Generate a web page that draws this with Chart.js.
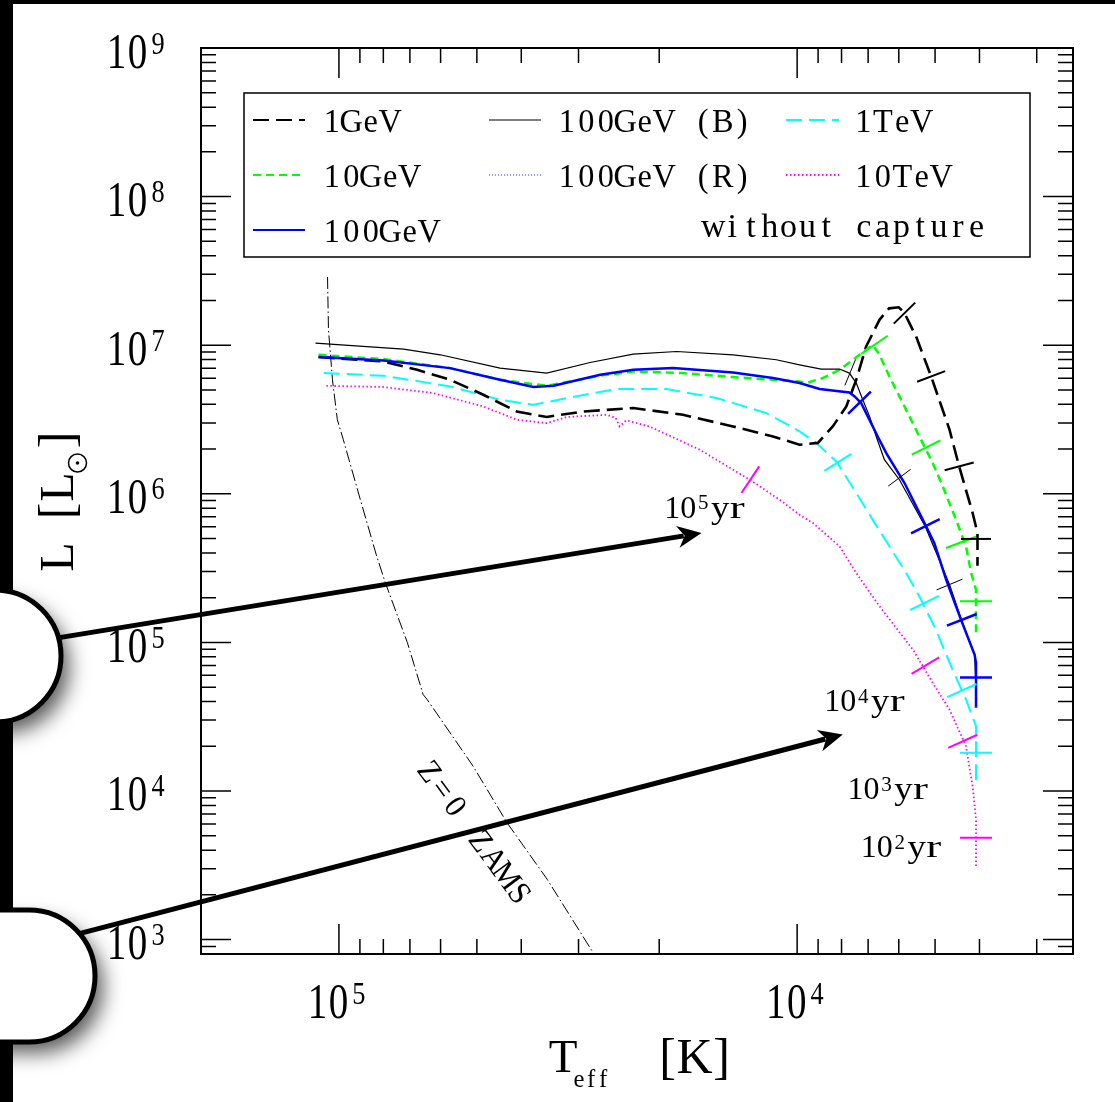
<!DOCTYPE html>
<html>
<head>
<meta charset="utf-8">
<script src="https://cdn.jsdelivr.net/npm/chart.js@4/dist/chart.umd.min.js"></script>
<style>
html, body { margin: 0; padding: 0; background: #fff; }
#wrap { position: relative; width: 1115px; height: 1102px; }
</style>
</head>
<body>
<div id="wrap"><canvas id="myChart"></canvas></div>
<script>
// axis ranges and tick labels
const xMin = 2500, xMax = 2e5;
const yMin = 800, yMax = 1e9;
const xMajor = [1e5, 1e4];
const xTickExp = ['5', '4'];
const yMajor = [1e9, 1e8, 1e7, 1e6, 1e5, 1e4, 1e3];
const yTickExp = ['9', '8', '7', '6', '5', '4', '3'];

// 1GeV track (black dashed)
const gev1T = [1.108e5, 7.99e4, 6.75e4, 5.72e4, 4.84e4, 4.09e4, 3.52e4, 2.93e4, 2.28e4, 1.774e4, 1.38e4, 1.129e4, 9.88e3, 9.01e3, 8.36e3, 7.81e3, 7.43e3, 7.07e3, 6.61e3, 6.3e3, 6.0e3, 5.83e3, 5.5e3, 5.1e3, 4.65e3, 4.43e3, 4.14e3, 4.04e3, 4.04e3];
const gev1L = [8.32e6, 7.77e6, 6.83e6, 5.85e6, 4.64e6, 3.58e6, 3.29e6, 3.58e6, 3.78e6, 3.4e6, 2.84e6, 2.43e6, 2.14e6, 2.2e6, 2.84e6, 3.87e6, 5.85e6, 9.8e6, 1.482e7, 1.77e7, 1.8e7, 1.644e7, 1.144e7, 6.16e6, 2.7e6, 1.529e6, 7.43e5, 5.45e5, 3.28e5];
const gev1MarkT = [5.83e3, 5.1e3, 4.43e3, 4.07e3];
const gev1MarkL = [1.644e7, 6.16e6, 1.529e6, 4.97e5];

// 10GeV track (green dashed)
const gev10T = [1.108e5, 7.99e4, 5.72e4, 4.45e4, 3.52e4, 2.69e4, 2.28e4, 1.774e4, 1.38e4, 9.88e3, 9.55e3, 8.79e3, 8.08e3, 7.31e3, 6.84e3, 6.61e3, 6.29e3, 5.88e3, 5.41e3, 5.06e3, 4.81e3, 4.5e3, 4.28e3, 4.17e3, 4.07e3, 4.07e3];
const gev10L = [8.62e6, 8.06e6, 7.01e6, 5.85e6, 5.33e6, 6.23e6, 6.66e6, 6.49e6, 6.1e6, 5.7e6, 5.56e6, 6.01e6, 6.83e6, 8.62e6, 1.006e7, 8.62e6, 6.16e6, 4.08e6, 2.43e6, 1.612e6, 1.121e6, 6.7e5, 4.43e5, 2.93e5, 2.26e5, 1.158e5];
const gev10MarkT = [6.78e3, 5.23e3, 4.39e3, 4.07e3];
const gev10MarkL = [1.006e7, 2.05e6, 4.71e5, 1.89e5];

// 100GeV track (blue solid)
const gev100T = [1.107e5, 7.99e4, 5.72e4, 4.45e4, 3.76e4, 3.4e4, 2.69e4, 2.28e4, 1.865e4, 1.38e4, 1.129e4, 9.88e3, 8.93e3, 7.69e3, 7.49e3, 7.25e3, 7.07e3, 6.67e3, 6.39e3, 5.83e3, 5.23e3, 5.02e3, 4.73e3, 4.39e3, 4.1e3, 4.07e3, 4.07e3];
const gev100L = [8.32e6, 7.89e6, 7.01e6, 5.85e6, 5.23e6, 5.33e6, 6.32e6, 6.83e6, 7.01e6, 6.55e6, 6.01e6, 5.56e6, 5.07e6, 4.81e6, 4.52e6, 4.08e6, 3.49e6, 2.43e6, 1.88e6, 1.182e6, 6.04e5, 4.67e5, 2.65e5, 1.424e5, 8.28e4, 7.28e4, 3.63e4];
const gev100MarkT = [7.31e3, 5.25e3, 4.37e3, 4.07e3];
const gev100MarkL = [4.1e6, 6.04e5, 1.42e5, 5.8e4];

// 100GeV (B) track (thin black)
const gevBT = [1.125e5, 7.225e4, 6.01e4, 4.45e4, 3.52e4, 2.83e4, 2.28e4, 1.833e4, 1.38e4, 1.11e4, 9.88e3, 8.86e3, 8.08e3, 7.69e3, 7.43e3, 7.19e3, 6.95e3, 6.72e3, 6.45e3, 5.98e3, 5.25e3, 4.65e3, 4.38e3, 4.1e3, 4.06e3];
const gevBL = [1.033e7, 9.41e6, 8.62e6, 7.01e6, 6.49e6, 7.65e6, 8.71e6, 9.07e6, 8.62e6, 7.98e6, 7.38e6, 6.91e6, 6.91e6, 6.49e6, 5.56e6, 4.29e6, 3.32e6, 2.43e6, 1.696e6, 1.244e6, 6.01e5, 2.45e5, 1.424e5, 8.28e4, 4.13e4];
const gevBMarkT = [7.66e3, 5.98e3, 4.65e3];
const gevBMarkL = [6.55e6, 1.283e6, 2.45e5];

// 100GeV (R) track (thin blue dotted, lies under the 100GeV one)
const gevRT = [1.107e5, 7.99e4, 5.72e4, 4.45e4, 3.76e4, 3.4e4, 2.69e4, 2.28e4, 1.865e4, 1.38e4, 1.129e4, 9.88e3, 8.93e3, 7.69e3, 7.49e3, 7.25e3, 7.07e3, 6.67e3, 6.39e3, 5.83e3, 5.23e3, 5.02e3, 4.73e3, 4.39e3, 4.1e3, 4.07e3];
const gevRL = [8.3e6, 7.9e6, 7.0e6, 5.85e6, 5.25e6, 5.33e6, 6.3e6, 6.8e6, 7.0e6, 6.55e6, 6.0e6, 5.55e6, 5.07e6, 4.8e6, 4.5e6, 4.1e6, 3.5e6, 2.45e6, 1.9e6, 1.18e6, 6.0e5, 4.65e5, 2.65e5, 1.42e5, 8.3e4, 7.3e4];
const gevRMarkT = [7.31e3, 5.25e3, 4.37e3];
const gevRMarkL = [4.1e6, 6.04e5, 1.42e5];

// 1TeV track (cyan dashed)
const tev1T = [1.079e5, 7.99e4, 5.72e4, 4.45e4, 3.76e4, 3.18e4, 2.48e4, 1.928e4, 1.5e4, 1.167e4, 1.038e4, 9.88e3, 9.08e3, 8.21e3, 7.43e3, 6.84e3, 6.29e3, 5.78e3, 5.41e3, 4.98e3, 4.58e3, 4.28e3, 4.07e3, 4.07e3];
const tev1L = [6.49e6, 6.23e6, 5.28e6, 4.29e6, 3.97e6, 4.41e6, 5.07e6, 5.07e6, 4.41e6, 3.49e6, 2.87e6, 2.63e6, 2.2e6, 1.652e6, 1.013e6, 6.7e5, 4.43e5, 2.93e5, 2.04e5, 1.219e5, 6.56e4, 4.13e4, 2.73e4, 1.077e4];
const tev1MarkT = [8.15e3, 5.27e3, 4.37e3, 4.07e3];
const tev1MarkL = [1.626e6, 1.844e5, 4.74e4, 1.807e4];

// 10TeV track (magenta dotted)
const tev10T = [1.065e5, 7.99e4, 6.22e4, 4.84e4, 4.09e4, 3.52e4, 3.18e4, 2.6e4, 2.49e4, 2.44e4, 2.36e4, 2.1e4, 1.631e4, 1.269e4, 1.092e4, 9.88e3, 9.24e3, 8.08e3, 7.43e3, 6.61e3, 5.59e3, 5.06e3, 4.65e3, 4.28e3, 4.14e3, 4.07e3, 4.07e3];
const tev10L = [5.33e6, 5.23e6, 4.76e6, 3.87e6, 3.15e6, 2.99e6, 3.29e6, 3.4e6, 3.25e6, 2.84e6, 3.12e6, 2.84e6, 1.98e6, 1.244e6, 9.13e5, 7.23e5, 6.36e5, 4.43e5, 2.93e5, 1.749e5, 8.95e4, 5.34e4, 3.53e4, 2.0e4, 1.077e4, 6.43e3, 3.12e3];
const tev10MarkT = [1.265e4, 5.25e3, 4.35e3, 4.07e3];
const tev10MarkL = [1.244e6, 6.98e4, 2.16e4, 4.85e3];

// Z=0 ZAMS
const zamsT = [1.059e5, 1.054e5, 1.033e5, 1.008e5, 9.78e4, 8.98e4, 8.29e4, 7.92e4, 7.09e4, 6.55e4, 6.42e4, 5.09e4, 4.3e4, 3.51e4, 2.79e4];
const zamsL = [2.88e7, 1.27e7, 5.85e6, 3.15e6, 2.31e6, 9.13e5, 3.89e5, 2.52e5, 9.97e4, 4.46e4, 4.13e4, 1.462e4, 6.14e3, 2.54e3, 820];

// age labels (exponent, T, L of the label's left baseline point)
const ageExp = ['5', '4', '3', '2'];
const ageT = [1.93e4, 8.64e3, 7.69e3, 7.19e3];
const ageL = [6.88e5, 3.44e4, 8.77e3, 3.57e3];

// arrows (from T, L to T, L)
const arrowFromT = [4.47e5, 4.04e5];
const arrowFromL = [1.028e5, 1.019e3];
const arrowToT = [1.617e4, 7.95e3];
const arrowToL = [5.45e5, 2.4e4];

// ZAMS label anchor
const zamsLabelT = 6.38e4, zamsLabelL = 1.332e4;

const FONT = '"Liberation Serif", "DejaVu Serif", serif';

function pts(T, L) { return T.map((t, i) => ({x: t, y: L[i]})); }

function perpAngle(c) {
    const ds = c.dataset, ch = c.chart, p = c.raw;
    const xs = ch.scales.x, ys = ch.scales.y;
    if (!p || !ds.track || !xs || !ys) return 0;
    const px = xs.getPixelForValue(p.x), py = ys.getPixelForValue(p.y);
    let best = Infinity, ang = 0;
    const t = ds.track;
    for (let i = 0; i < t.length - 1; i++) {
        const ax = xs.getPixelForValue(t[i].x), ay = ys.getPixelForValue(t[i].y);
        const bx = xs.getPixelForValue(t[i + 1].x), by = ys.getPixelForValue(t[i + 1].y);
        const dx = bx - ax, dy = by - ay;
        const len2 = dx * dx + dy * dy || 1;
        let u = ((px - ax) * dx + (py - ay) * dy) / len2;
        u = Math.max(0, Math.min(1, u));
        const d = Math.hypot(ax + u * dx - px, ay + u * dy - py);
        if (d < best) { best = d; ang = Math.atan2(dy, dx); }
    }
    return ang * 180 / Math.PI + 90;
}

function track(label, T, L, color, width, dash) {
    return {label: label, data: pts(T, L), showLine: true, borderColor: color, borderWidth: width,
        borderDash: dash, pointRadius: 0, pointHoverRadius: 0, tension: 0, fill: false};
}
function marks(T, L, trackData, color, width, r) {
    return {label: '', data: pts(T, L), showLine: false, track: trackData, pointStyle: 'line',
        pointRadius: r, pointHoverRadius: r, pointBorderColor: color, pointBackgroundColor: color,
        pointBorderWidth: width, pointRotation: perpAngle};
}

const tGev1 = track('1GeV', gev1T, gev1L, '#000000', 2.6, [16, 7]);
const tGev10 = track('10GeV', gev10T, gev10L, '#00ff00', 2.5, [8, 5]);
const tGev100 = track('100GeV', gev100T, gev100L, '#0000ff', 2.5, []);
const tGevB = track('100GeV (B)', gevBT, gevBL, '#000000', 1.2, []);
const tGevR = track('100GeV (R)', gevRT, gevRL, '#3030ff', 1, [1, 2]);
const tTev1 = track('1TeV', tev1T, tev1L, '#00ffff', 2, [16, 7]);
const tTev10 = track('10TeV', tev10T, tev10L, '#ff00ff', 1.8, [1.5, 2.5]);
const tZams = track('ZAMS', zamsT, zamsL, '#000000', 1, [12, 3, 1.5, 3]);

const datasets = [
    marks(gev100MarkT, gev100MarkL, tGev100.data, '#0000ff', 2.5, 16),
    marks(gevRMarkT, gevRMarkL, tGevR.data, '#3030ff', 1, 15),
    marks(gevBMarkT, gevBMarkL, tGevB.data, '#000000', 1, 14),
    marks(gev1MarkT, gev1MarkL, tGev1.data, '#000000', 2, 15),
    marks(gev10MarkT, gev10MarkL, tGev10.data, '#00ff00', 2, 16),
    marks(tev1MarkT, tev1MarkL, tTev1.data, '#00ffff', 2, 16),
    marks(tev10MarkT, tev10MarkL, tTev10.data, '#ff00ff', 2, 16),
    tGev100, tGevB, tGev10, tGev1, tTev1, tTev10, tGevR, tZams
];

// draw a string one glyph per fixed-width cell
function glyphs(ctx, str, x0, y, adv, size, sx) {
    ctx.font = size + 'px ' + FONT;
    ctx.textAlign = 'center';
    ctx.textBaseline = 'alphabetic';
    for (let i = 0; i < str.length; i++) {
        ctx.save();
        ctx.translate(x0 + adv * (i + 0.5), y);
        ctx.scale(sx, 1);
        ctx.fillText(str[i], 0, 0);
        ctx.restore();
    }
}
function power(ctx, exp, cx, base) {
    glyphs(ctx, '10', cx - 36, base, 21, 50, 0.78);
    glyphs(ctx, exp, cx + 7, base - 14, 18, 31, 0.85);
}
function logTicks(min, max) {
    const out = [];
    for (let e = Math.floor(Math.log10(min)); e <= Math.ceil(Math.log10(max)); e++) {
        for (let k = 1; k < 10; k++) {
            const v = k * Math.pow(10, e);
            if (v >= min * 0.999 && v <= max * 1.001) out.push({v: v, major: k === 1});
        }
    }
    return out;
}
function arrow(ctx, x1, y1, x2, y2) {
    const a = Math.atan2(y2 - y1, x2 - x1), hl = 24, hw = 11;
    ctx.save();
    ctx.lineWidth = 5;
    ctx.strokeStyle = '#000';
    ctx.fillStyle = '#000';
    ctx.beginPath();
    ctx.moveTo(x1, y1);
    ctx.lineTo(x2 - (hl - 6) * Math.cos(a), y2 - (hl - 6) * Math.sin(a));
    ctx.stroke();
    ctx.translate(x2, y2);
    ctx.rotate(a);
    ctx.beginPath();
    ctx.moveTo(0, 0);
    ctx.lineTo(-hl, -hw);
    ctx.lineTo(-hl + 7, 0);
    ctx.lineTo(-hl, hw);
    ctx.closePath();
    ctx.fill();
    ctx.restore();
}
function bubble(ctx, cx, cy, r) {
    ctx.save();
    ctx.beginPath();
    ctx.moveTo(-200, cy - r);
    ctx.lineTo(cx, cy - r);
    ctx.arc(cx, cy, r, -Math.PI / 2, Math.PI / 2);
    ctx.lineTo(-200, cy + r);
    ctx.closePath();
    ctx.shadowColor = 'rgba(0,0,0,0.65)';
    ctx.shadowBlur = 20;
    ctx.shadowOffsetX = 8;
    ctx.shadowOffsetY = 11;
    ctx.fillStyle = '#fff';
    ctx.fill();
    ctx.shadowColor = 'transparent';
    ctx.lineWidth = 5;
    ctx.strokeStyle = '#000';
    ctx.stroke();
    ctx.restore();
}

// legend layout: [label, sample x0, sample x1, text x, row]
const legendRows = [120, 175, 230];
const legendItems = [
    ['1GeV', 253, 305, 322, 0], ['10GeV', 253, 305, 322, 1], ['100GeV', 253, 305, 322, 2],
    ['100GeV (B)', 489, 541, 557, 0], ['100GeV (R)', 489, 541, 557, 1],
    ['1TeV', 786, 839, 853.5, 0], ['10TeV', 786, 839, 853.5, 1]
];

const hrPlugin = {
    id: 'hr',
    beforeDraw(chart) {
        const ctx = chart.ctx;
        ctx.save();
        ctx.fillStyle = '#fff';
        ctx.fillRect(0, 0, chart.width, chart.height);
        ctx.fillStyle = '#000';
        ctx.fillRect(0, 0, chart.width, 4);
        ctx.fillRect(0, 0, 13, chart.height);
        ctx.restore();
    },
    afterDatasetsDraw(chart) {
        const ctx = chart.ctx, a = chart.chartArea, xs = chart.scales.x, ys = chart.scales.y;
        ctx.save();
        // frame and ticks
        ctx.strokeStyle = '#000';
        ctx.lineWidth = 2;
        ctx.strokeRect(a.left, a.top, a.right - a.left, a.bottom - a.top);
        ctx.lineWidth = 1.5;
        ctx.beginPath();
        logTicks(xMin, xMax).forEach(t => {
            const px = xs.getPixelForValue(t.v), len = t.major ? 30 : 15;
            ctx.moveTo(px, a.bottom); ctx.lineTo(px, a.bottom - len);
            ctx.moveTo(px, a.top); ctx.lineTo(px, a.top + len);
        });
        logTicks(yMin, yMax).forEach(t => {
            const py = ys.getPixelForValue(t.v), len = t.major ? 30 : 15;
            ctx.moveTo(a.left, py); ctx.lineTo(a.left + len, py);
            ctx.moveTo(a.right, py); ctx.lineTo(a.right - len, py);
        });
        ctx.stroke();

        // tick labels
        ctx.fillStyle = '#000';
        xMajor.forEach((v, i) => power(ctx, xTickExp[i], xs.getPixelForValue(v) + 4, 1018));
        yMajor.forEach((v, i) => power(ctx, yTickExp[i], 142, ys.getPixelForValue(v) + 19.5));

        // axis titles
        glyphs(ctx, 'T', 548, 1072, 30, 47, 1);
        glyphs(ctx, 'eff', 573, 1087, 12, 26, 0.95);
        glyphs(ctx, '[K]', 654, 1073, 27, 50, 1);
        const yTitle = [['L', 557, 48], ['[', 511, 50], ['L', 487, 48], [']', 440, 50]];
        yTitle.forEach(g => {
            ctx.save();
            ctx.translate(73, g[1]);
            ctx.rotate(-Math.PI / 2);
            ctx.font = g[2] + 'px ' + FONT;
            ctx.textAlign = 'center';
            ctx.fillText(g[0], 0, 0);
            ctx.restore();
        });
        ctx.lineWidth = 1.5;
        ctx.beginPath();
        ctx.arc(77.5, 463, 9, 0, Math.PI * 2);
        ctx.stroke();
        ctx.beginPath();
        ctx.arc(77.5, 463, 1.8, 0, Math.PI * 2);
        ctx.fill();

        // legend
        ctx.lineWidth = 1.5;
        ctx.fillStyle = '#fff';
        ctx.fillRect(244, 93, 786, 164);
        ctx.strokeStyle = '#000';
        ctx.strokeRect(244, 93, 786, 164);
        legendItems.forEach(it => {
            const ds = chart.data.datasets.find(d => d.label === it[0]);
            const y = legendRows[it[4]];
            ctx.save();
            ctx.strokeStyle = ds.borderColor;
            ctx.lineWidth = Math.min(ds.borderWidth, 2);
            ctx.setLineDash(ds.borderDash || []);
            ctx.beginPath();
            ctx.moveTo(it[1], y);
            ctx.lineTo(it[2], y);
            ctx.stroke();
            ctx.restore();
            ctx.fillStyle = '#000';
            glyphs(ctx, it[0], it[3], y + 11.7, 19.5, 34, 0.95);
        });
        glyphs(ctx, 'without capture', 704, 237, 18.8, 34, 1.0);

        // age labels
        ageExp.forEach((e, i) => {
            const x = xs.getPixelForValue(ageT[i]), b = ys.getPixelForValue(ageL[i]);
            glyphs(ctx, '1', x - 2, b, 16, 32, 1);
            glyphs(ctx, '0', x + 14, b, 16, 32, 1);
            glyphs(ctx, e, x + 31, b - 8.5, 12, 21, 1);
            glyphs(ctx, 'y', x + 45, b, 18, 32, 1.15);
            glyphs(ctx, 'r', x + 62, b, 18, 32, 1.4);
        });

        // ZAMS label
        const zx = xs.getPixelForValue(zamsLabelT), zy = ys.getPixelForValue(zamsLabelL);
        const ang = 53.6 * Math.PI / 180;
        ctx.font = '32px ' + FONT;
        ctx.textAlign = 'center';
        ctx.textBaseline = 'middle';
        'Z=0 ZAMS'.split('').forEach((ch, i) => {
            ctx.save();
            ctx.translate(zx + 21.6 * i * Math.cos(ang), zy + 21.6 * i * Math.sin(ang));
            ctx.rotate(ang);
            ctx.scale(0.95, 1);
            ctx.fillText(ch, 0, 0);
            ctx.restore();
        });
        ctx.textBaseline = 'alphabetic';

        // arrows and call-out bubbles
        arrowFromT.forEach((t, i) => {
            arrow(ctx, xs.getPixelForValue(t), ys.getPixelForValue(arrowFromL[i]),
                xs.getPixelForValue(arrowToT[i]), ys.getPixelForValue(arrowToL[i]));
        });
        bubble(ctx, -5, 656, 66);
        bubble(ctx, 29, 976, 66);
        ctx.restore();
    }
};

const ctx = document.getElementById('myChart').getContext('2d');
const myChart = new Chart(ctx, {
    type: 'scatter',
    data: {datasets: datasets},
    options: {
        responsive: true,
        maintainAspectRatio: false,
        animation: false,
        events: [],
        layout: {padding: {left: 201, top: 48, right: 42, bottom: 148}},
        plugins: {legend: {display: false}, tooltip: {enabled: false}},
        scales: {
            x: {type: 'logarithmic', reverse: true, min: xMin, max: xMax, display: false},
            y: {type: 'logarithmic', min: yMin, max: yMax, display: false}
        }
    },
    plugins: [hrPlugin]
});
</script>
</body>
</html>
